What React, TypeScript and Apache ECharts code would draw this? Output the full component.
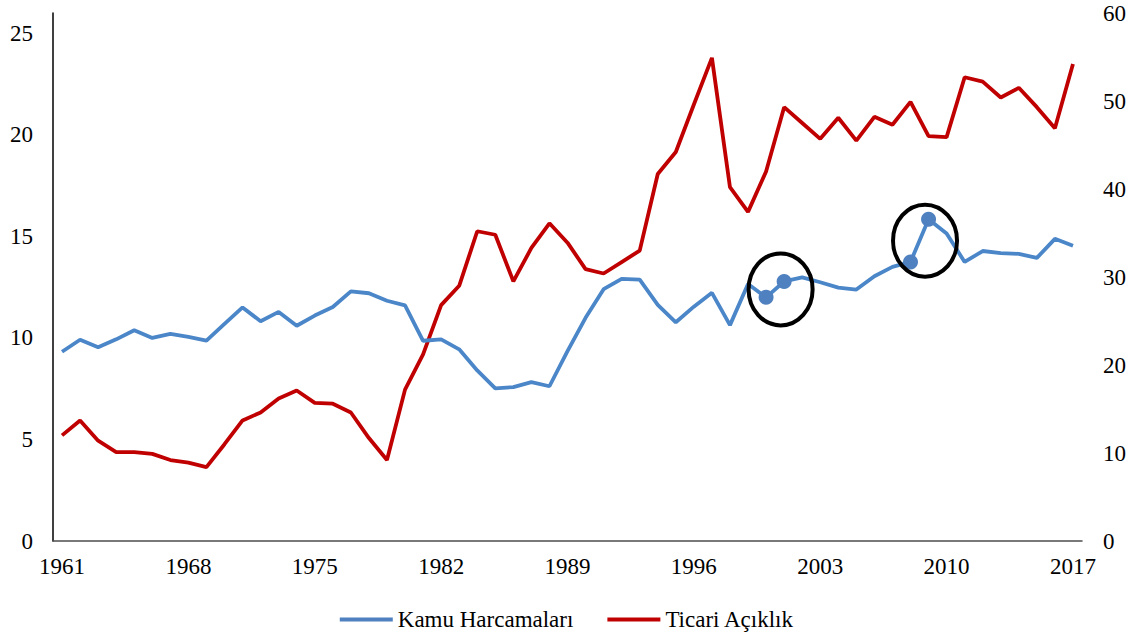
import React, { useEffect, useRef } from "react";
import * as echarts from "echarts";

const YEARS = [
  "1961","1962","1963","1964","1965","1966","1967","1968","1969","1970",
  "1971","1972","1973","1974","1975","1976","1977","1978","1979","1980",
  "1981","1982","1983","1984","1985","1986","1987","1988","1989","1990",
  "1991","1992","1993","1994","1995","1996","1997","1998","1999","2000",
  "2001","2002","2003","2004","2005","2006","2007","2008","2009","2010",
  "2011","2012","2013","2014","2015","2016","2017",
];

const KAMU_HARCAMALARI = [
  9.32, 9.91, 9.54, 9.93, 10.38, 10.0, 10.2, 10.05, 9.87, 10.69,
  11.5, 10.82, 11.28, 10.6, 11.1, 11.52, 12.29, 12.2, 11.83, 11.6,
  9.86, 9.93, 9.44, 8.4, 7.52, 7.58, 7.82, 7.62, 9.35, 10.99,
  12.4, 12.91, 12.87, 11.63, 10.77, 11.54, 12.22, 10.63, 12.66, 12.0,
  12.78, 12.98, 12.74, 12.48, 12.38, 13.04, 13.5, 13.74, 15.84, 15.14,
  13.74, 14.28, 14.18, 14.14, 13.94, 14.88, 14.54,
];

const TICARI_ACIKLIK = [
  12.0, 13.7, 11.4, 10.1, 10.1, 9.9, 9.2, 8.9, 8.4, 11.0,
  13.7, 14.6, 16.2, 17.1, 15.7, 15.6, 14.6, 11.7, 9.2, 17.2,
  21.2, 26.8, 29.0, 35.2, 34.8, 29.5, 33.3, 36.1, 33.9, 30.9,
  30.4, 31.7, 33.0, 41.7, 44.2, 49.6, 54.9, 40.2, 37.4, 42.0,
  49.3, 47.5, 45.7, 48.1, 45.5, 48.2, 47.3, 49.9, 46.0, 45.9,
  52.7, 52.2, 50.4, 51.5, 49.3, 46.9, 54.2,
];

const MARKER_YEARS = ["2000", "2001", "2008", "2009"];
const CIRCLED_PAIRS = [["2000", "2001"], ["2008", "2009"]];

const FONT = '"Liberation Serif", "Times New Roman", serif';
const FONT_SIZE = 23;
const BLUE = "#4a86c8";
const RED = "#c00000";

export default function App() {
  const ref = useRef<HTMLDivElement>(null);

  useEffect(() => {
    document.body.style.margin = "0";
    const chart = echarts.init(ref.current!, null, { renderer: "svg" });
    const option: any = {
      animation: false,
      backgroundColor: "#ffffff",
      grid: { left: 53, right: 52, top: 13, bottom: 94 },
      legend: {
        bottom: 4,
        padding: 0,
        left: "center",
        itemWidth: 53,
        itemHeight: 4,
        itemGap: 34,
        icon: "rect",
        textStyle: { fontFamily: FONT, fontSize: FONT_SIZE, color: "#000" },
        data: ["Kamu Harcamaları", "Ticari Açıklık"],
      },
      xAxis: {
        type: "category",
        data: YEARS,
        boundaryGap: true,
        axisLine: { show: true, lineStyle: { color: "#4d4d4d", width: 1.5 } },
        axisTick: { show: false },
        axisLabel: {
          interval: 6,
          margin: 14,
          fontFamily: FONT,
          fontSize: FONT_SIZE,
          color: "#000",
        },
        splitLine: { show: false },
      },
      yAxis: [
        {
          type: "value",
          min: 0,
          max: 26,
          interval: 5,
          position: "left",
          axisLine: { show: true, lineStyle: { color: "#000", width: 1.5 } },
          axisTick: { show: false },
          splitLine: { show: false },
          axisLabel: {
            showMaxLabel: false,
            margin: 20,
            fontFamily: FONT,
            fontSize: FONT_SIZE,
            color: "#000",
          },
        },
        {
          type: "value",
          min: 0,
          max: 60,
          interval: 10,
          position: "right",
          axisLine: { show: false },
          axisTick: { show: false },
          splitLine: { show: false },
          axisLabel: {
            margin: 21,
            fontFamily: FONT,
            fontSize: FONT_SIZE,
            color: "#000",
          },
        },
      ],
      series: [
        {
          name: "Kamu Harcamaları",
          type: "line",
          yAxisIndex: 0,
          data: KAMU_HARCAMALARI,
          color: BLUE,
          lineStyle: { width: 3.8, color: BLUE },
          symbol: "circle",
          showSymbol: true,
          symbolSize: (_v: any, p: any) =>
            MARKER_YEARS.includes(YEARS[p.dataIndex]) ? 15 : 0,
          itemStyle: { color: "#4f80c0" },
          z: 3,
        },
        {
          name: "Ticari Açıklık",
          type: "line",
          yAxisIndex: 1,
          data: TICARI_ACIKLIK,
          color: RED,
          lineStyle: { width: 3.8, color: RED },
          symbol: "none",
          z: 2,
        },
      ],
    };
    chart.setOption(option);

    const ellipses = CIRCLED_PAIRS.map(([a, b]) => {
      const ia = YEARS.indexOf(a);
      const ib = YEARS.indexOf(b);
      const pa = chart.convertToPixel({ xAxisIndex: 0, yAxisIndex: 0 }, [ia, KAMU_HARCAMALARI[ia]]);
      const pb = chart.convertToPixel({ xAxisIndex: 0, yAxisIndex: 0 }, [ib, KAMU_HARCAMALARI[ib]]);
      return {
        type: "ellipse",
        shape: {
          cx: (pa[0] + pb[0]) / 2 + 5.5,
          cy: (pa[1] + pb[1]) / 2,
          rx: 32,
          ry: 36,
        },
        style: { fill: "none", stroke: "#000", lineWidth: 4 },
        z: 10,
      };
    });
    chart.setOption({ graphic: ellipses });

    return () => chart.dispose();
  }, []);

  return <div ref={ref} style={{ width: 1134, height: 635 }} />;
}
